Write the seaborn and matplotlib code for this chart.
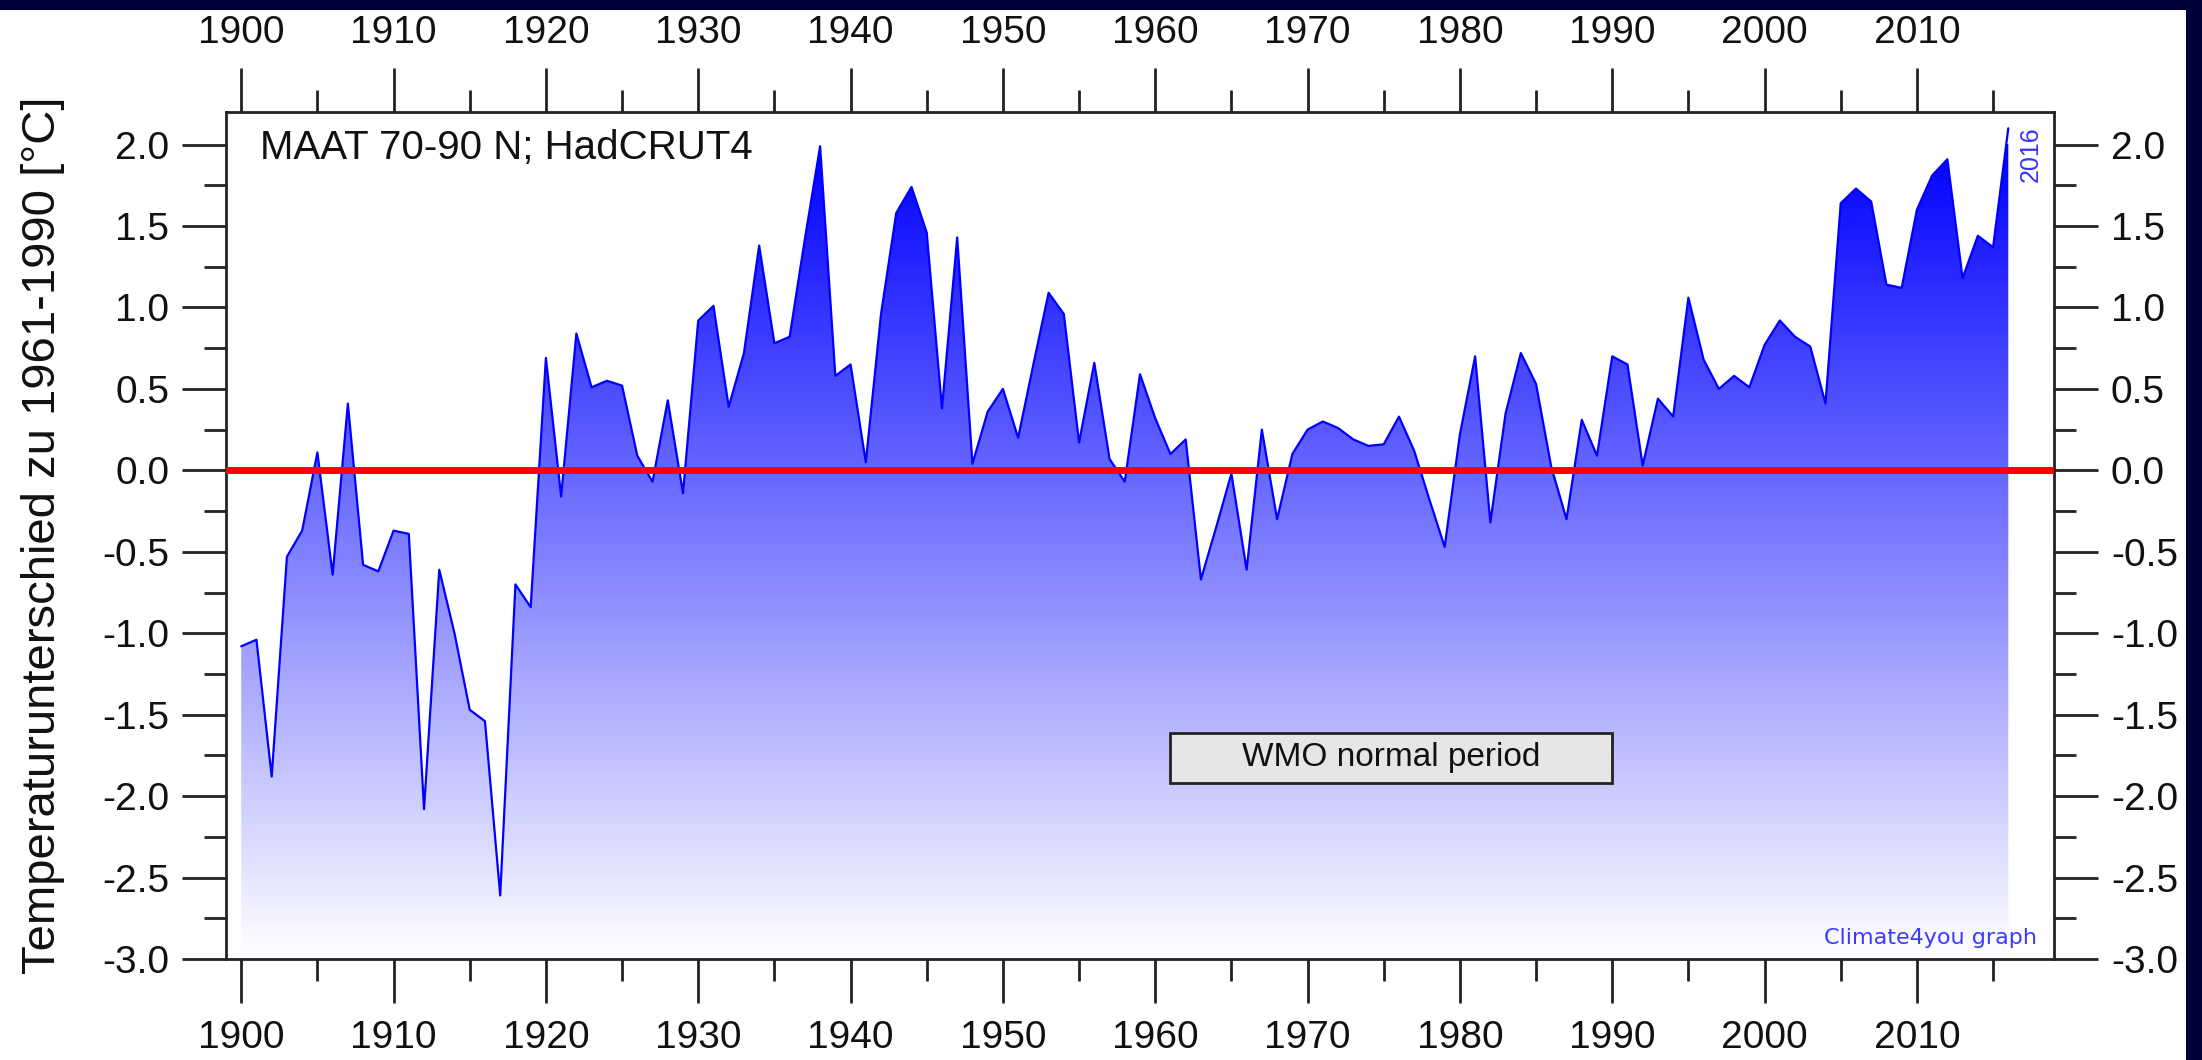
import numpy as np
import pandas as pd
import seaborn as sns
import matplotlib.pyplot as plt
import matplotlib.ticker as mtick
from matplotlib.colors import LinearSegmentedColormap
from matplotlib.patches import Rectangle

# MAAT 70-90N, HadCRUT4, anomaly vs 1961-1990
years = np.arange(1900, 2017)
temps = [
    -1.08, -1.04, -1.88, -0.53, -0.37, 0.11, -0.64, 0.41, -0.58, -0.62,   # 1900s
    -0.37, -0.39, -2.08, -0.61, -1.00, -1.47, -1.54, -2.61, -0.70, -0.84,  # 1910s
    0.69, -0.16, 0.84, 0.51, 0.55, 0.52, 0.09, -0.07, 0.43, -0.14,        # 1920s
    0.92, 1.01, 0.39, 0.72, 1.38, 0.78, 0.82, 1.42, 1.99, 0.58,           # 1930s
    0.65, 0.05, 0.96, 1.58, 1.74, 1.46, 0.38, 1.43, 0.04, 0.36,           # 1940s
    0.50, 0.20, 0.65, 1.09, 0.96, 0.17, 0.66, 0.07, -0.07, 0.59,          # 1950s
    0.32, 0.10, 0.19, -0.67, -0.35, -0.02, -0.61, 0.25, -0.30, 0.10,      # 1960s
    0.25, 0.30, 0.26, 0.19, 0.15, 0.16, 0.33, 0.12, -0.18, -0.47,         # 1970s
    0.22, 0.70, -0.32, 0.35, 0.72, 0.53, 0.02, -0.30, 0.31, 0.09,         # 1980s
    0.70, 0.65, 0.03, 0.44, 0.33, 1.06, 0.68, 0.50, 0.58, 0.51,           # 1990s
    0.77, 0.92, 0.82, 0.76, 0.41, 1.64, 1.73, 1.65, 1.14, 1.12,           # 2000s
    1.60, 1.81, 1.91, 1.18, 1.44, 1.37, 2.10,                             # 2010s
]
wmo_period = (1961, 1990)
df = pd.DataFrame({"Jahr": years, "Anomalie": temps})

sns.set_theme(style="ticks")
plt.rcParams["font.family"] = ["Liberation Sans", "DejaVu Sans"]

fig = plt.figure(figsize=(22.02, 10.6), dpi=100)
fig.patch.set_facecolor("white")
ax = fig.add_axes([226 / 2202, 1 - 959 / 1060, (2054 - 226) / 2202, (959 - 112) / 1060])

xmin, xmax, ymin, ymax = 1899.0, 2019.0, -3.0, 2.2

# gradient fill under the curve
poly = ax.fill_between(df["Jahr"], df["Anomalie"], ymin, facecolor="none", edgecolor="none")
cmap = LinearSegmentedColormap.from_list("blaugrad", ["#ffffff", "#0000ff"])
grad = np.linspace(0, 1, 256).reshape(-1, 1)
im = ax.imshow(grad, extent=[xmin, xmax, ymin, 2.0], origin="lower", aspect="auto",
               cmap=cmap, vmin=0, vmax=1, zorder=1)
im.set_clip_path(poly.get_paths()[0], transform=ax.transData)

sns.lineplot(data=df, x="Jahr", y="Anomalie", color="#0000ff", linewidth=1.6, ax=ax, zorder=3)
ax.axhline(0, color="#ff0000", linewidth=5, zorder=4)

ax.set_xlim(xmin, xmax)
ax.set_ylim(ymin, ymax)

# WMO normal period box
ax.add_patch(Rectangle((wmo_period[0], -1.92), wmo_period[1] - wmo_period[0], 0.31,
                       facecolor="#e6e6e6", edgecolor="#222222", linewidth=2, zorder=5))
ax.text(sum(wmo_period) / 2, -1.765, "WMO normal period", ha="center", va="center",
        fontsize=24, color="#111111", zorder=6)

ax.text(1901.2, 1.98, "MAAT 70-90 N; HadCRUT4", ha="left", va="center", fontsize=29, color="#111111")
ax.text(2017.5, 1.94, "2016", rotation=90, ha="center", va="center", fontsize=18, color="#3333ff")
ax.text(2017.9, -2.87, "Climate4you graph", ha="right", va="center", fontsize=16,
        color="#3b3bff", family="DejaVu Sans")

ax.xaxis.set_major_locator(mtick.MultipleLocator(10))
ax.xaxis.set_minor_locator(mtick.MultipleLocator(5))
ax.yaxis.set_major_locator(mtick.MultipleLocator(0.5))
ax.yaxis.set_minor_locator(mtick.MultipleLocator(0.25))
ax.yaxis.set_major_formatter(mtick.FormatStrFormatter("%.1f"))
ax.xaxis.set_major_formatter(mtick.FormatStrFormatter("%d"))

ax.tick_params(which="both", direction="out", top=True, right=True, labeltop=True,
               labelright=True, color="#222222", width=2)
ax.tick_params(which="major", length=32, labelsize=28, labelcolor="#111111")
ax.tick_params(which="minor", length=16)
ax.tick_params(axis="x", which="major", pad=12)
ax.tick_params(axis="y", which="major", pad=9)
for s in ax.spines.values():
    s.set_linewidth(2)
    s.set_color("#222222")

ax.set_xlabel("")
ax.set_ylabel("Temperaturunterschied zu 1961-1990 [°C]", fontsize=34, color="#111111")
ax.yaxis.set_label_coords(-0.088, 0.5)

# dark frame bands at top and right edge
fig.patches.append(Rectangle((0, 1 - 10 / 1060), 1, 10 / 1060, transform=fig.transFigure,
                             facecolor="#000038", edgecolor="none", zorder=0))
fig.patches.append(Rectangle((2186 / 2202, 0), 16 / 2202, 1, transform=fig.transFigure,
                             facecolor="#000038", edgecolor="none", zorder=0))
band = fig.add_axes([2197 / 2202, 0, 5 / 2202, 1 - 10 / 1060])
band.imshow(grad, aspect="auto", origin="lower",
            cmap=LinearSegmentedColormap.from_list("rand", ["#1a1aff", "#000038"]))
band.set_axis_off()

fig.savefig("out.png", dpi=100)
